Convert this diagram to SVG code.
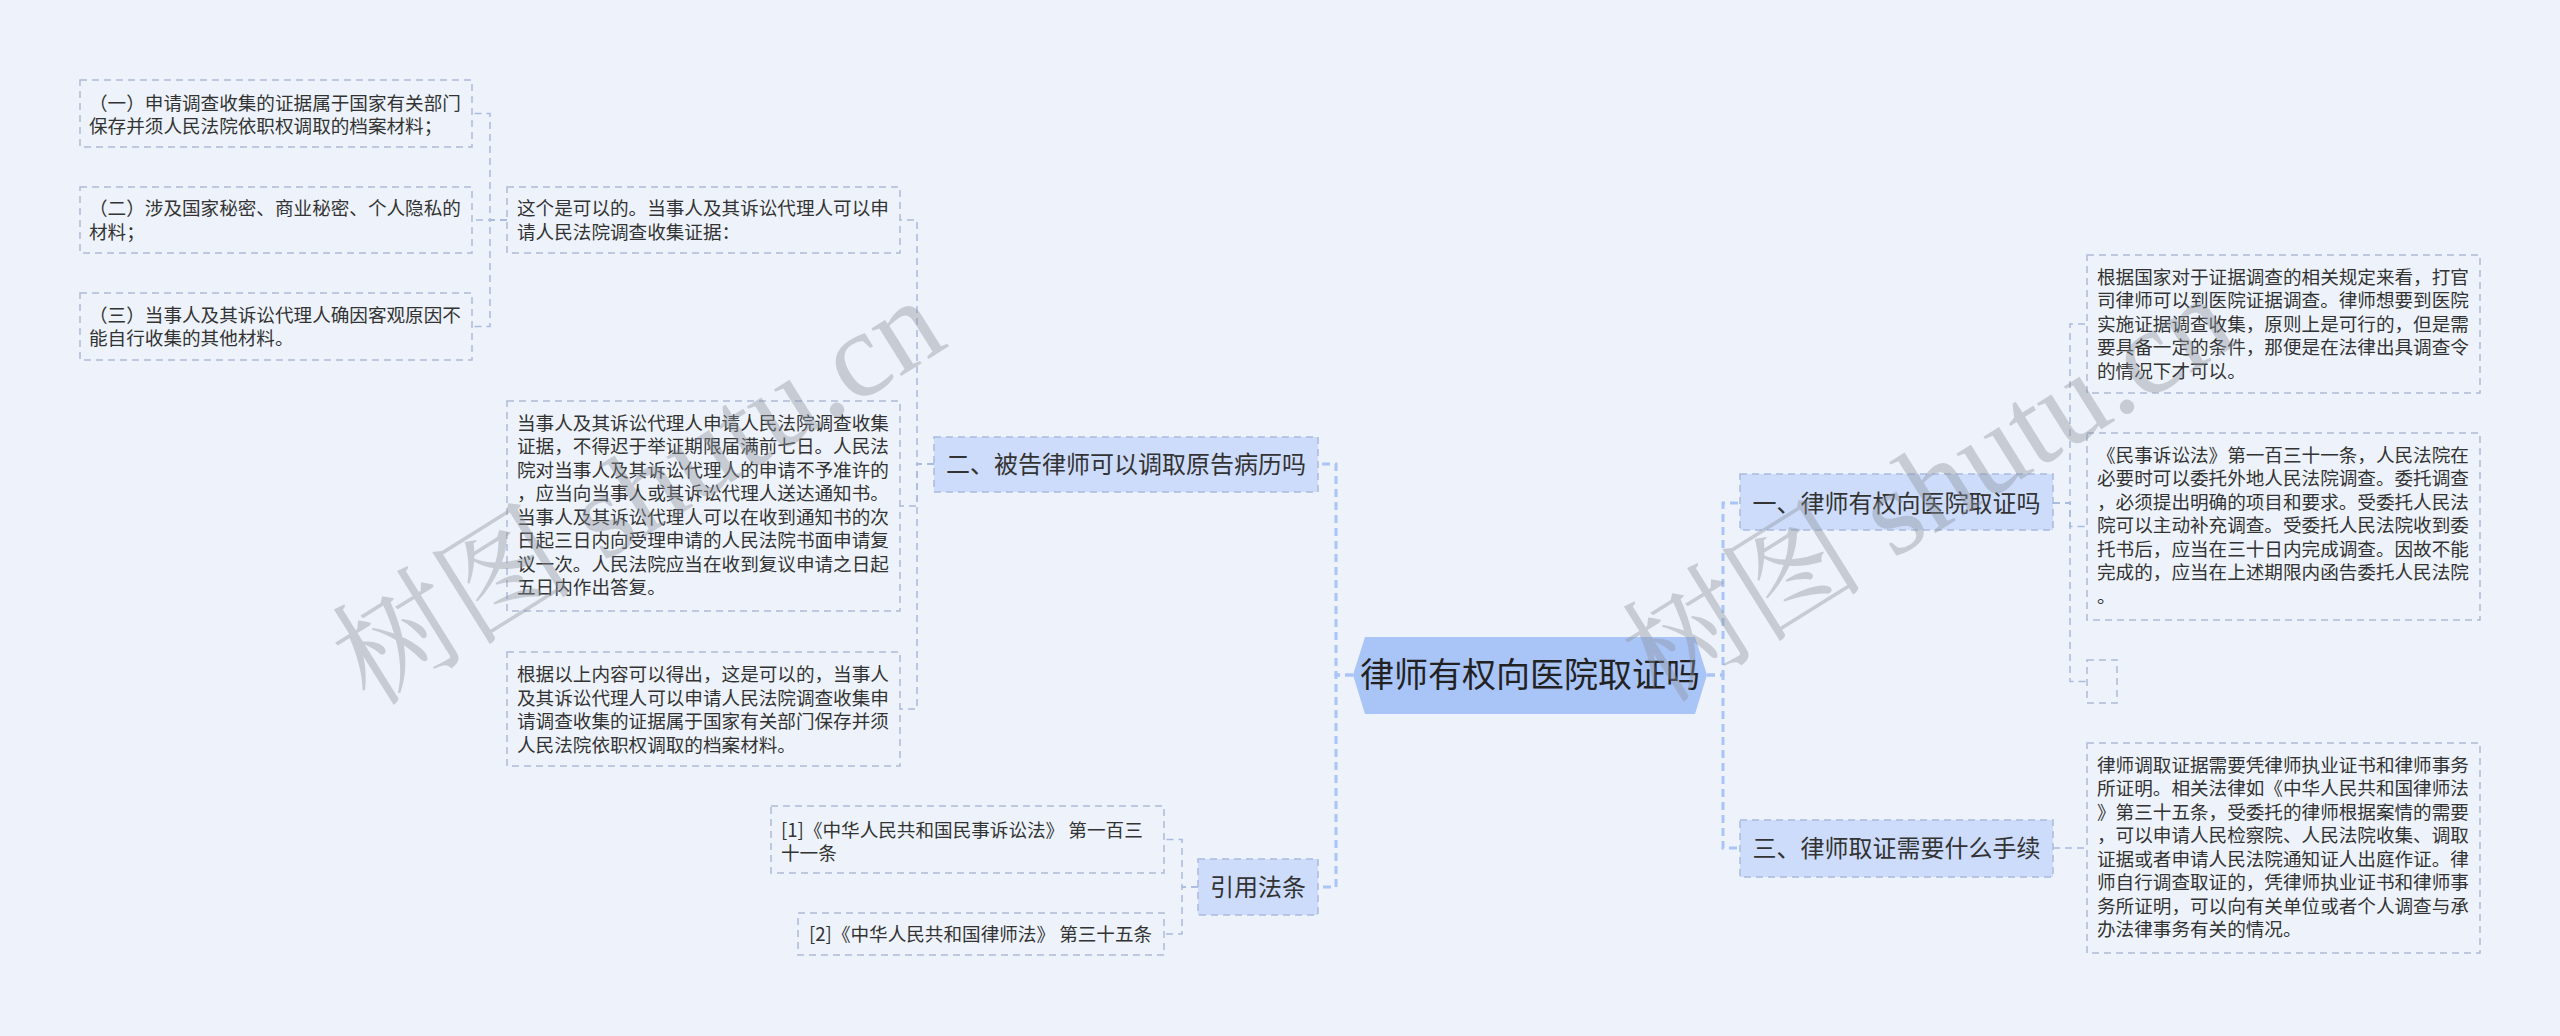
<svg xmlns="http://www.w3.org/2000/svg" width="2560" height="1036" viewBox="0 0 2560 1036">
<style>
.bg{fill:#eef3fb}
.leaf{fill:none;stroke:#aebad6;stroke-width:1.5;stroke-dasharray:7 5}
.l1{fill:#cddcfa;stroke:#a9bbe0;stroke-width:1.5;stroke-dasharray:7 5}
.t{font-family:"Noto Sans CJK SC","Noto Sans",sans-serif;font-size:18.6px;fill:#333}
.t1{font-family:"Noto Sans CJK SC","Noto Sans",sans-serif;font-size:24px;fill:#333;text-anchor:middle}
.tc{font-family:"Noto Sans CJK SC","Noto Sans",sans-serif;font-size:34px;fill:#222;text-anchor:middle}
.c{fill:none;stroke:#a9bbe0;stroke-width:1.5;stroke-dasharray:7 5}
.cm{fill:none;stroke:#a9c4f7;stroke-width:3;stroke-dasharray:8 5}
.wm{font-family:"Liberation Serif","Noto Serif CJK SC","Noto Sans CJK SC",serif;font-size:122px;fill:#8c929c;opacity:0.4}
</style>
<rect class="bg" x="0" y="0" width="2560" height="1036"/>

<g id="connectors">
<path class="cm" d="M1353 675H1336V464H1318"/>
<path class="cm" d="M1353 675H1336V887H1318"/>
<path class="cm" d="M1707 675H1723V503H1740"/>
<path class="cm" d="M1707 675H1723V848H1740"/>
<path class="c" d="M934 464H917V220H900"/>
<path class="c" d="M934 464H917V506H900"/>
<path class="c" d="M934 464H917V709H900"/>
<path class="c" d="M507 220H490V113.5H472"/>
<path class="c" d="M507 220H472"/>
<path class="c" d="M507 220H490V326.5H472"/>
<path class="c" d="M1198 887H1182V839.5H1164"/>
<path class="c" d="M1198 887H1182V934H1164"/>
<path class="c" d="M2053 503H2070V324H2087"/>
<path class="c" d="M2053 503H2070V526.5H2087"/>
<path class="c" d="M2053 503H2070V681.5H2087"/>
<path class="c" d="M2053 848H2087"/>
</g>

<g id="center">
<polygon points="1353,675 1365,637 1695,637 1707,675 1695,714 1365,714" fill="#a9c4f7"/>
<text class="tc" x="1530" y="687">律师有权向医院取证吗</text>
</g>

<g id="n2">
<rect class="l1" x="934" y="437" width="384" height="55"/>
<text class="t1" x="1126" y="472.5">二、被告律师可以调取原告病历吗</text>
</g>
<g id="n-cite">
<rect class="l1" x="1198" y="859" width="120" height="56"/>
<text class="t1" x="1258" y="895.5">引用法条</text>
</g>
<g id="n1">
<rect class="l1" x="1740" y="474" width="313" height="56"/>
<text class="t1" x="1896.5" y="511.5">一、律师有权向医院取证吗</text>
</g>
<g id="n3">
<rect class="l1" x="1740" y="820" width="313" height="57"/>
<text class="t1" x="1896.5" y="857">三、律师取证需要什么手续</text>
</g>

<g id="leaf-a1">
<rect class="leaf" x="80" y="80" width="392" height="67"/>
<text class="t" x="89" y="109.5">（一）申请调查收集的证据属于国家有关部门</text>
<text class="t" x="89" y="133">保存并须人民法院依职权调取的档案材料；</text>
</g>
<g id="leaf-a2">
<rect class="leaf" x="80" y="187" width="392" height="66"/>
<text class="t" x="89" y="215">（二）涉及国家秘密、商业秘密、个人隐私的</text>
<text class="t" x="89" y="238.5">材料；</text>
</g>
<g id="leaf-a3">
<rect class="leaf" x="80" y="293" width="392" height="67"/>
<text class="t" x="89" y="321.5">（三）当事人及其诉讼代理人确因客观原因不</text>
<text class="t" x="89" y="345">能自行收集的其他材料。</text>
</g>

<g id="leaf-b1">
<rect class="leaf" x="507" y="187" width="393" height="66"/>
<text class="t" x="517" y="215">这个是可以的。当事人及其诉讼代理人可以申</text>
<text class="t" x="517" y="238.5">请人民法院调查收集证据：</text>
</g>
<g id="leaf-b2">
<rect class="leaf" x="507" y="401" width="393" height="210"/>
<text class="t" x="517" y="429.5">当事人及其诉讼代理人申请人民法院调查收集</text>
<text class="t" x="517" y="453">证据，不得迟于举证期限届满前七日。人民法</text>
<text class="t" x="517" y="476.5">院对当事人及其诉讼代理人的申请不予准许的</text>
<text class="t" x="517" y="500">，应当向当事人或其诉讼代理人送达通知书。</text>
<text class="t" x="517" y="523.5">当事人及其诉讼代理人可以在收到通知书的次</text>
<text class="t" x="517" y="547">日起三日内向受理申请的人民法院书面申请复</text>
<text class="t" x="517" y="570.5">议一次。人民法院应当在收到复议申请之日起</text>
<text class="t" x="517" y="594">五日内作出答复。</text>
</g>
<g id="leaf-b3">
<rect class="leaf" x="507" y="652" width="393" height="114"/>
<text class="t" x="517" y="681">根据以上内容可以得出，这是可以的，当事人</text>
<text class="t" x="517" y="704.5">及其诉讼代理人可以申请人民法院调查收集申</text>
<text class="t" x="517" y="728">请调查收集的证据属于国家有关部门保存并须</text>
<text class="t" x="517" y="751.5">人民法院依职权调取的档案材料。</text>
</g>

<g id="cite1">
<rect class="leaf" x="771" y="806" width="393" height="67"/>
<text class="t" x="781" y="836.5">[1]《中华人民共和国民事诉讼法》 第一百三</text>
<text class="t" x="781" y="860">十一条</text>
</g>
<g id="cite2">
<rect class="leaf" x="798" y="913" width="366" height="42"/>
<text class="t" x="809" y="940.5">[2]《中华人民共和国律师法》 第三十五条</text>
</g>

<g id="leaf-r1">
<rect class="leaf" x="2087" y="255" width="393" height="138"/>
<text class="t" x="2097" y="283.5">根据国家对于证据调查的相关规定来看，打官</text>
<text class="t" x="2097" y="307">司律师可以到医院证据调查。律师想要到医院</text>
<text class="t" x="2097" y="330.5">实施证据调查收集，原则上是可行的，但是需</text>
<text class="t" x="2097" y="354">要具备一定的条件，那便是在法律出具调查令</text>
<text class="t" x="2097" y="377.5">的情况下才可以。</text>
</g>
<g id="leaf-r2">
<rect class="leaf" x="2087" y="433" width="393" height="187"/>
<text class="t" x="2097" y="461.5">《民事诉讼法》第一百三十一条，人民法院在</text>
<text class="t" x="2097" y="485">必要时可以委托外地人民法院调查。委托调查</text>
<text class="t" x="2097" y="508.5">，必须提出明确的项目和要求。受委托人民法</text>
<text class="t" x="2097" y="532">院可以主动补充调查。受委托人民法院收到委</text>
<text class="t" x="2097" y="555.5">托书后，应当在三十日内完成调查。因故不能</text>
<text class="t" x="2097" y="579">完成的，应当在上述期限内函告委托人民法院</text>
<text class="t" x="2097" y="602.5">。</text>
</g>
<g id="leaf-r3">
<rect class="leaf" x="2087" y="660" width="30" height="43"/>
</g>
<g id="leaf-r4">
<rect class="leaf" x="2087" y="743" width="393" height="210"/>
<text class="t" x="2097" y="771.5">律师调取证据需要凭律师执业证书和律师事务</text>
<text class="t" x="2097" y="795">所证明。相关法律如《中华人民共和国律师法</text>
<text class="t" x="2097" y="818.5">》第三十五条，受委托的律师根据案情的需要</text>
<text class="t" x="2097" y="842">，可以申请人民检察院、人民法院收集、调取</text>
<text class="t" x="2097" y="865.5">证据或者申请人民法院通知证人出庭作证。律</text>
<text class="t" x="2097" y="889">师自行调查取证的，凭律师执业证书和律师事</text>
<text class="t" x="2097" y="912.5">务所证明，可以向有关单位或者个人调查与承</text>
<text class="t" x="2097" y="936">办法律事务有关的情况。</text>
</g>

<text class="wm" transform="translate(370,708) rotate(-32)">树图 shutu.cn</text>
<text class="wm" transform="translate(1660,705) rotate(-32)">树图 shutu.cn</text>
</svg>
